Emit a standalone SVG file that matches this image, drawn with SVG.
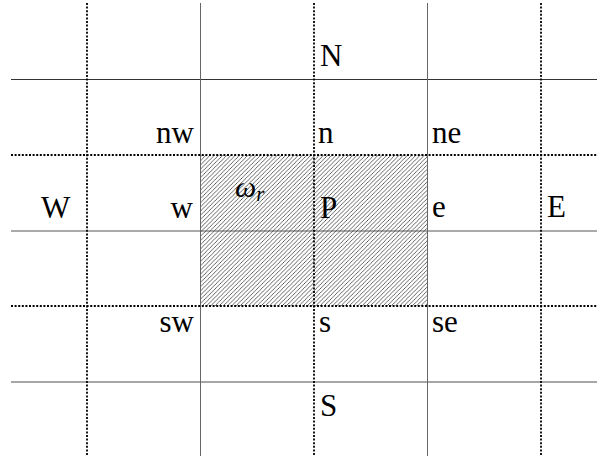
<svg xmlns="http://www.w3.org/2000/svg" width="608" height="462" viewBox="0 0 608 462">
<style>
.solid{stroke:#555;stroke-width:1;fill:none}
.dot{stroke:#000;stroke-width:1.8;stroke-dasharray:2 1.6;fill:none}
.lbl{font-family:"Liberation Serif",serif;font-size:31px;fill:#000}
.math{font-family:"Liberation Serif",serif;font-style:italic;fill:#000}
</style>
<defs>
<pattern id="hatch" patternUnits="userSpaceOnUse" width="4.2" height="4.2">
<path d="M-1,1 L1,-1 M0,4.2 L4.2,0 M3.2,5.2 L5.2,3.2" stroke="#333" stroke-width="0.75"/>
</pattern>
</defs>
<rect id="cell" x="200" y="155" width="227" height="151" fill="url(#hatch)"/>
<g id="grid">
<line class="solid" x1="11" y1="79.5" x2="597" y2="79.5" style="stroke:#333"/>
<line class="solid" x1="11" y1="231" x2="597" y2="231"/>
<line class="solid" x1="11" y1="382" x2="597" y2="382" style="stroke:#888;stroke-width:1.5"/>
<line class="solid" x1="200.5" y1="3" x2="200.5" y2="456" style="stroke:#666"/>
<line class="solid" x1="427.5" y1="3" x2="427.5" y2="456" style="stroke:#666"/>
<line class="dot" x1="11" y1="155" x2="597" y2="155"/>
<line class="dot" x1="11" y1="306" x2="597" y2="306"/>
<line class="dot" x1="87" y1="3" x2="87" y2="456"/>
<line class="dot" x1="314" y1="3" x2="314" y2="456"/>
<line class="dot" x1="541" y1="3" x2="541" y2="456"/>
</g>
<g id="N"><text class="lbl" x="320" y="66">N</text></g>
<g id="S"><text class="lbl" x="320" y="415.5">S</text></g>
<g id="W"><text class="lbl" x="41" y="217.5">W</text></g>
<g id="E"><text class="lbl" x="547" y="217">E</text></g>
<g id="P"><text class="lbl" x="320" y="218">P</text></g>
<g id="nw"><text class="lbl" x="194" y="143" text-anchor="end">nw</text></g>
<g id="n"><text class="lbl" x="318" y="143">n</text></g>
<g id="ne"><text class="lbl" x="432" y="142.5">ne</text></g>
<g id="w"><text class="lbl" x="193" y="218" text-anchor="end">w</text></g>
<g id="e"><text class="lbl" x="432" y="217">e</text></g>
<g id="sw"><text class="lbl" x="194" y="332" text-anchor="end">sw</text></g>
<g id="s"><text class="lbl" x="319" y="332">s</text></g>
<g id="se"><text class="lbl" x="432" y="332">se</text></g>
<g id="omega"><text class="math" x="235" y="197" font-size="30">ω<tspan font-size="21" dy="3.5">r</tspan></text></g>
</svg>
